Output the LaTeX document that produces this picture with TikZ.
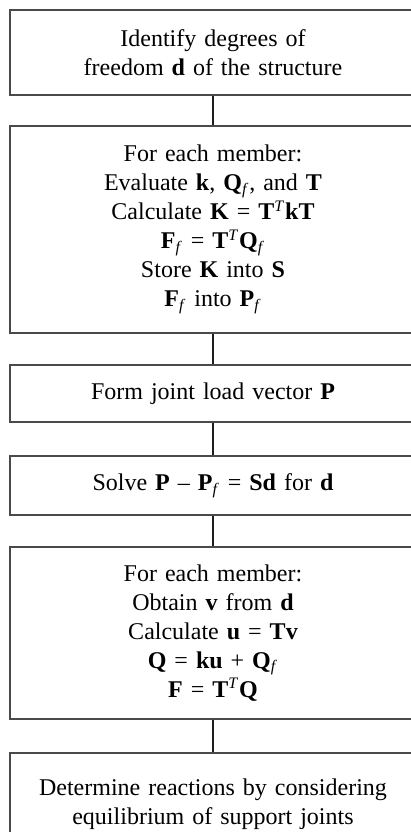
\documentclass[tikz,border=0pt]{standalone}
\usepackage{fontspec}
\setmainfont{Liberation Serif}
\usetikzlibrary{positioning}
\definecolor{Edge}{HTML}{4A4A4A}
\definecolor{Ink}{HTML}{1E1E1E}
\newcommand\subf{\textsubscript{\textit{f}}}
\newcommand\trT{\textsuperscript{\textit{T}}}

\begin{document}
\begin{tikzpicture}[x=0.5pt,y=-0.5pt,
  box/.style={draw=Edge,line width=0.6pt,minimum width=203pt,text width=190pt,
    align=center,font=\fontsize{12}{14.5}\selectfont,inner sep=0pt},
  link/.style={line width=1.1pt,Ink}]
  \clip (0,0) rectangle (411,832);
  \node[box,minimum height=42.5pt] (ident) at (213,52.5)
    {Identify degrees of\\freedom \textbf{d} of the structure};
  \node[box,minimum height=103.5pt] (member) at (213,229.5)
    {For each member:\\Evaluate \textbf{k}, \textbf{Q}\subf, and \textbf{T}\\
    Calculate \textbf{K} = \textbf{T}\trT\textbf{kT}\\\textbf{F}\subf{} = \textbf{T}\trT\textbf{Q}\subf\\
    Store \textbf{K} into \textbf{S}\\\textbf{F}\subf{} into \textbf{P}\subf};
  \node[box,minimum height=28.5pt] (load) at (213,393.5)
    {Form joint load vector \textbf{P}};
  \node[box,minimum height=29.5pt] (solve) at (213,485.5)
    {Solve \textbf{P} -- \textbf{P}\subf{} = \textbf{Sd} for \textbf{d}};
  \node[box,minimum height=86pt] (forces) at (213,633)
    {For each member:\\Obtain \textbf{v} from \textbf{d}\\
    Calculate \textbf{u} = \textbf{Tv}\\\textbf{Q} = \textbf{ku} + \textbf{Q}\subf\\\textbf{F} = \textbf{T}\trT\textbf{Q}};
  \node[box,minimum height=51pt] (react) at (213,804)
    {Determine reactions by considering\\equilibrium of support joints};
  \draw[link] (ident.south) -- (member.north);
  \draw[link] (member.south) -- (load.north);
  \draw[link] (load.south) -- (solve.north);
  \draw[link] (solve.south) -- (forces.north);
  \draw[link] (forces.south) -- (react.north);
\end{tikzpicture}
\end{document}
